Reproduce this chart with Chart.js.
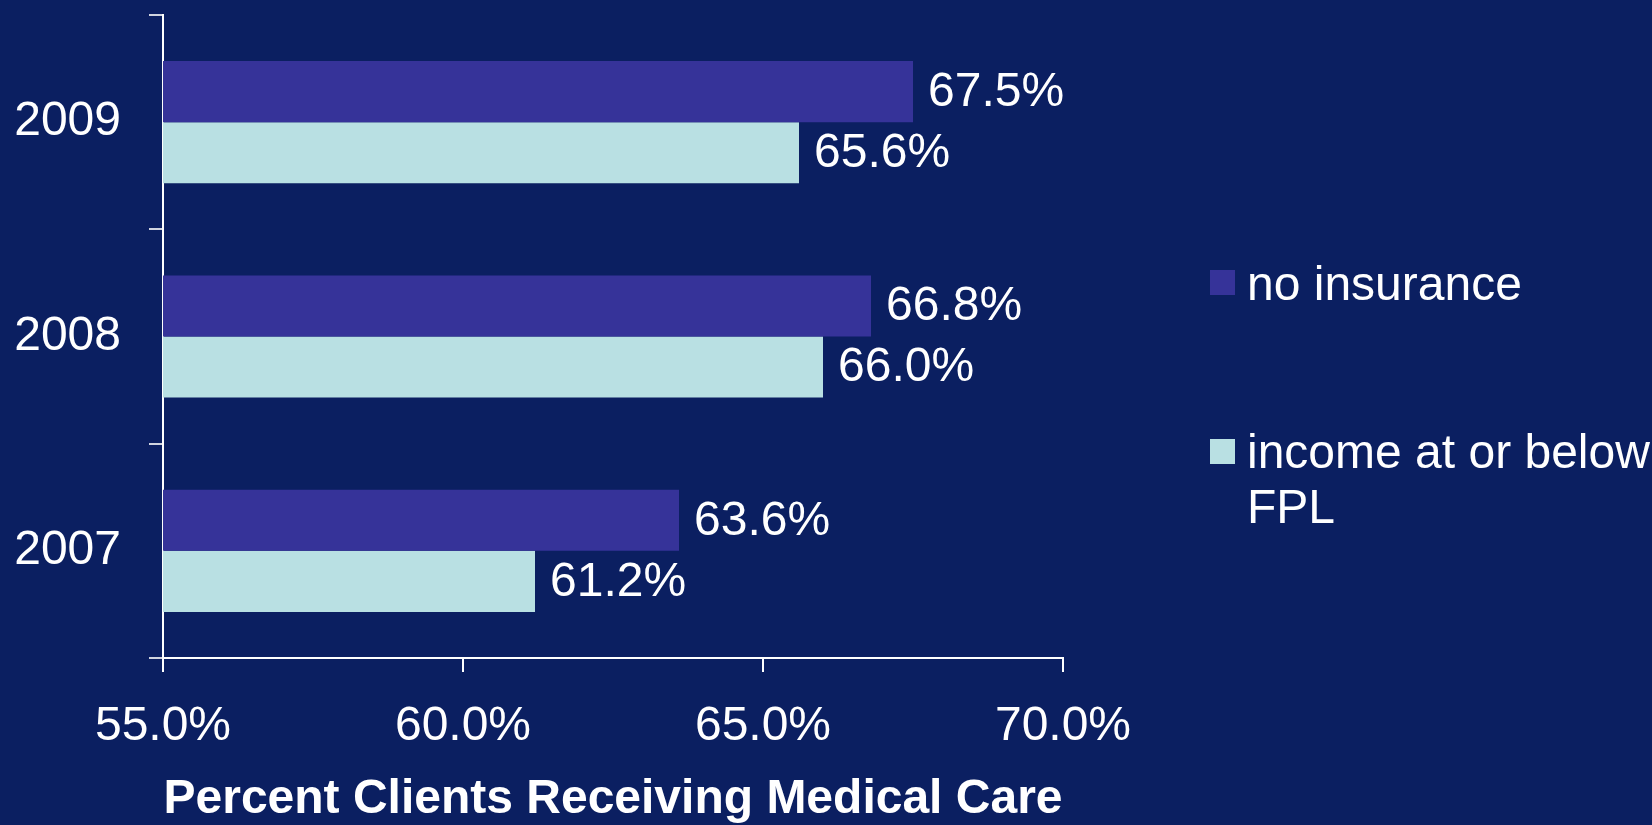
<!DOCTYPE html>
<html>
<head>
<meta charset="utf-8">
<script src="https://cdn.jsdelivr.net/npm/chart.js@4"></script>
<style>
  html, body { margin: 0; padding: 0; background: #0b1f61; }
  #wrap { position: relative; width: 1652px; height: 825px; }
  canvas { position: absolute; left: 0; top: 0; }
  .sw { position: absolute; width: 25px; height: 25px; }
  .lt { position: absolute; left: 1247px; color: #fff; font: 48px "Liberation Sans", Arial, sans-serif; line-height: 55px; white-space: nowrap; }
</style>
</head>
<body>
<div id="wrap">
  <canvas id="grafico" width="1652" height="825"></canvas>
  <div class="sw" style="left:1210px; top:270px; background:#363399;"></div>
  <div class="lt" style="top:256px;">no insurance</div>
  <div class="sw" style="left:1210px; top:439px; background:#b9e0e3;"></div>
  <div class="lt" style="top:424px;">income at or below<br>FPL</div>
</div>
<script>
const anos = ["2009", "2008", "2007"];
const semSeguro = [67.5, 66.8, 63.6];
const rendaBaixa = [65.6, 66.0, 61.2];
const ticksX = [55, 60, 65, 70];

const fonte = "'Liberation Sans', Arial, sans-serif";

// escreve o valor ao lado de cada barra
const rotulos = {
  id: "rotulos",
  afterDatasetsDraw(chart) {
    const ctx = chart.ctx;
    ctx.save();
    ctx.fillStyle = "#ffffff";
    ctx.font = "48px " + fonte;
    ctx.textAlign = "left";
    ctx.textBaseline = "middle";
    chart.data.datasets.forEach((ds, i) => {
      chart.getDatasetMeta(i).data.forEach((bar, j) => {
        ctx.fillText(ds.data[j].toFixed(1) + "%", bar.x + 15, bar.y + 1);
      });
    });
    ctx.restore();
  }
};

new Chart(document.getElementById("grafico"), {
  type: "bar",
  data: {
    labels: anos,
    datasets: [
      { label: "no insurance", data: semSeguro, backgroundColor: "#363399" },
      { label: "income at or below FPL", data: rendaBaixa, backgroundColor: "#b9e0e3" }
    ]
  },
  options: {
    indexAxis: "y",
    responsive: false,
    animation: false,
    categoryPercentage: 0.57,
    barPercentage: 1,
    layout: { padding: { top: 15, right: 589, left: 0, bottom: 0 } },
    plugins: { legend: { display: false }, tooltip: { enabled: false } },
    scales: {
      x: {
        min: 55,
        max: 70,
        afterBuildTicks: s => { s.ticks = ticksX.map(v => ({ value: v })); },
        afterFit: s => { s.height = 167; s.paddingLeft = 0; s.paddingRight = 0; },
        ticks: {
          color: "#ffffff",
          font: { family: fonte, size: 48 },
          padding: 26,
          maxRotation: 0,
          callback: v => v.toFixed(1) + "%"
        },
        grid: { drawOnChartArea: false, color: "#ffffff", tickLength: 14, lineWidth: 2 },
        border: { color: "#ffffff", width: 2 },
        title: {
          display: true,
          text: "Percent Clients Receiving Medical Care",
          color: "#ffffff",
          font: { family: fonte, size: 48, weight: "bold", lineHeight: 1 },
          padding: { top: 0, bottom: 1 }
        }
      },
      y: {
        afterFit: s => { s.width = 163; s.paddingTop = 0; s.paddingBottom = 0; },
        ticks: {
          color: "#ffffff",
          font: { family: fonte, size: 48 },
          padding: 28
        },
        grid: { drawOnChartArea: false, color: "#d0d4e0", tickLength: 14, lineWidth: 2, offset: true },
        border: { color: "#ffffff", width: 2 }
      }
    }
  },
  plugins: [rotulos]
});
</script>
</body>
</html>
